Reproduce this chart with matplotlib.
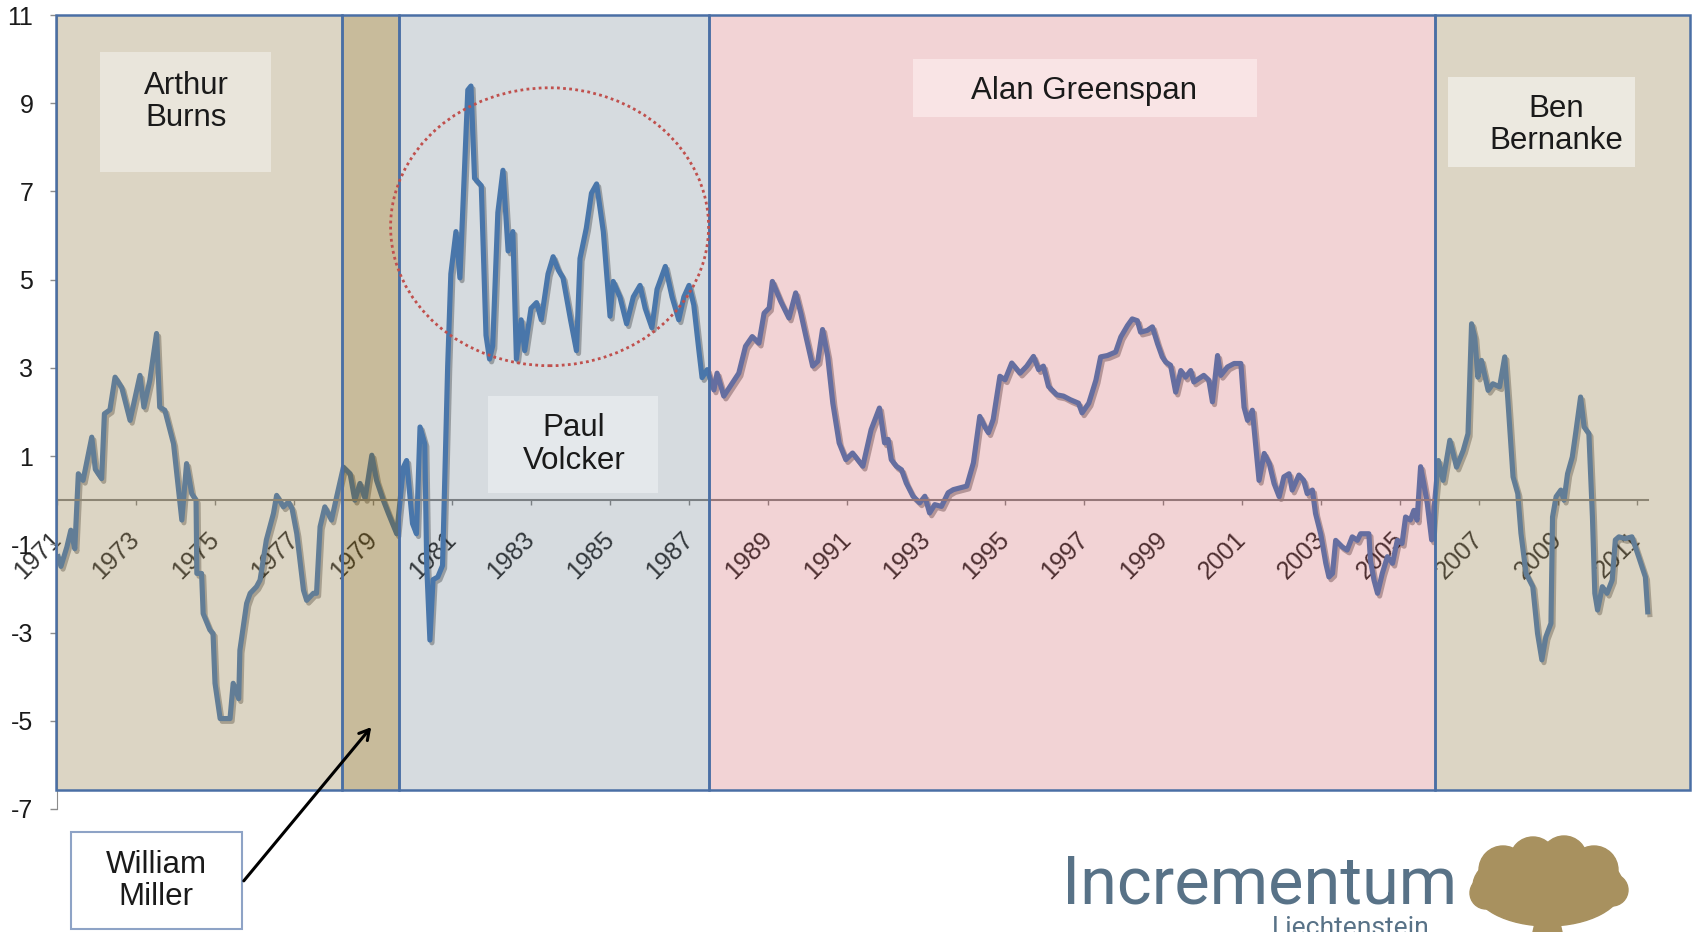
import matplotlib
matplotlib.use('Agg')
import matplotlib.pyplot as plt
import matplotlib.patheffects as pe
from matplotlib.patches import Rectangle, Ellipse, Polygon

plt.rcParams['font.family'] = ['Liberation Sans', 'DejaVu Sans']
plt.rcParams['axes.unicode_minus'] = False

# series (decimal year, value)
years = [
    1971.03, 1971.10, 1971.25, 1971.35, 1971.45, 1971.54, 1971.66, 1971.88, 1971.97, 1972.13,
    1972.20, 1972.34, 1972.47, 1972.64, 1972.85, 1973.10, 1973.20, 1973.35, 1973.52, 1973.60,
    1973.73, 1973.95, 1974.16, 1974.28, 1974.41, 1974.52, 1974.54, 1974.66, 1974.70, 1974.87,
    1974.95, 1975.00, 1975.13, 1975.38, 1975.46, 1975.60, 1975.63, 1975.80, 1975.89, 1976.05,
    1976.14, 1976.30, 1976.48, 1976.56, 1976.73, 1976.86, 1976.95, 1977.07, 1977.24, 1977.32,
    1977.49, 1977.57, 1977.66, 1977.78, 1977.95, 1978.08, 1978.25, 1978.42, 1978.54, 1978.67,
    1978.80, 1978.97, 1979.09, 1979.26, 1979.39, 1979.60, 1979.77, 1979.85, 1980.00, 1980.10,
    1980.19, 1980.31, 1980.36, 1980.44, 1980.52, 1980.64, 1980.76, 1980.89, 1980.97, 1981.10,
    1981.20, 1981.31, 1981.40, 1981.48, 1981.57, 1981.74, 1981.86, 1981.95, 1982.03, 1982.16,
    1982.29, 1982.42, 1982.54, 1982.63, 1982.75, 1982.84, 1983.00, 1983.14, 1983.26, 1983.43,
    1983.56, 1983.69, 1983.81, 1984.00, 1984.15, 1984.24, 1984.40, 1984.53, 1984.66, 1984.83,
    1985.00, 1985.08, 1985.25, 1985.42, 1985.59, 1985.76, 1985.89, 1986.06, 1986.19, 1986.40,
    1986.57, 1986.74, 1986.87, 1987.00, 1987.12, 1987.25, 1987.33, 1987.46, 1987.63, 1987.71,
    1987.88, 1988.10, 1988.26, 1988.43, 1988.60, 1988.77, 1988.90, 1989.03, 1989.11, 1989.32,
    1989.53, 1989.70, 1989.83, 1989.96, 1990.13, 1990.26, 1990.38, 1990.51, 1990.64, 1990.80,
    1990.97, 1991.14, 1991.27, 1991.40, 1991.61, 1991.82, 1991.95, 1992.04, 1992.12, 1992.25,
    1992.38, 1992.50, 1992.67, 1992.84, 1992.97, 1993.09, 1993.22, 1993.39, 1993.56, 1993.69,
    1994.03, 1994.20, 1994.36, 1994.49, 1994.58, 1994.70, 1994.87, 1995.00, 1995.17, 1995.38,
    1995.55, 1995.72, 1995.85, 1995.97, 1996.10, 1996.31, 1996.48, 1996.65, 1996.86, 1996.95,
    1997.12, 1997.30, 1997.42, 1997.59, 1997.80, 1997.93, 1998.10, 1998.22, 1998.35, 1998.43,
    1998.60, 1998.73, 1998.86, 1998.98, 1999.07, 1999.19, 1999.32, 1999.45, 1999.57, 1999.70,
    1999.78, 1999.91, 2000.03, 2000.16, 2000.25, 2000.38, 2000.46, 2000.63, 2000.80, 2000.97,
    2001.05, 2001.14, 2001.26, 2001.35, 2001.43, 2001.56, 2001.69, 2001.81, 2001.94, 2002.06,
    2002.19, 2002.27, 2002.44, 2002.56, 2002.65, 2002.78, 2002.86, 2002.99, 2003.12, 2003.20,
    2003.29, 2003.37, 2003.54, 2003.66, 2003.79, 2003.92, 2004.00, 2004.13, 2004.21, 2004.25,
    2004.34, 2004.43, 2004.55, 2004.68, 2004.81, 2004.93, 2005.05, 2005.14, 2005.26, 2005.35,
    2005.43, 2005.52, 2005.60, 2005.69, 2005.80, 2005.88, 2005.97, 2006.09, 2006.26, 2006.43,
    2006.60, 2006.72, 2006.81, 2006.89, 2006.97, 2007.06, 2007.23, 2007.35, 2007.52, 2007.65,
    2007.73, 2007.86, 2007.98, 2008.06, 2008.19, 2008.36, 2008.48, 2008.59, 2008.69, 2008.82,
    2008.86, 2008.95, 2009.07, 2009.15, 2009.24, 2009.36, 2009.45, 2009.57, 2009.66, 2009.78,
    2009.87, 2009.93, 2010.00, 2010.12, 2010.24, 2010.37, 2010.45, 2010.54, 2010.70, 2010.87,
    2011.04, 2011.21, 2011.27,
]
values = [
    -1.28, -1.50, -1.06, -0.68, -1.10, 0.60, 0.45, 1.43, 0.70, 0.49,
    1.96, 2.05, 2.79, 2.55, 1.81, 2.83, 2.11, 2.72, 3.78, 2.11,
    2.04, 1.28, -0.45, 0.83, 0.15, 0.00, -1.66, -1.66, -2.57, -2.94,
    -3.02, -4.15, -4.95, -4.95, -4.15, -4.50, -3.40, -2.34, -2.11, -1.96,
    -1.81, -0.90, -0.30, 0.11, -0.15, -0.04, -0.19, -0.76, -2.04, -2.27,
    -2.11, -2.11, -0.60, -0.15, -0.45, 0.08, 0.75, 0.60, 0.00, 0.38,
    0.04, 1.02, 0.45, 0.00, -0.30, -0.76, 0.75, 0.90, -0.53, -0.76,
    1.66, 1.28, -1.50, -3.17, -1.80, -1.74, -1.48, 3.04, 5.13, 6.09,
    5.04, 7.39, 9.30, 9.39, 7.30, 7.13, 3.74, 3.20, 3.50, 6.52,
    7.48, 5.65, 6.09, 3.20, 4.09, 3.39, 4.35, 4.48, 4.09, 5.13,
    5.52, 5.22, 5.04, 4.09, 3.39, 5.48, 6.17, 6.96, 7.17, 6.09,
    4.17, 4.96, 4.61, 4.00, 4.61, 4.87, 4.35, 3.91, 4.78, 5.30,
    4.61, 4.09, 4.61, 4.87, 4.43, 3.39, 2.78, 2.96, 2.50, 2.88,
    2.36, 2.66, 2.88, 3.49, 3.71, 3.56, 4.24, 4.36, 4.96, 4.51,
    4.13, 4.70, 4.24, 3.71, 3.04, 3.15, 3.87, 3.26, 2.20, 1.30,
    0.92, 1.07, 0.92, 0.77, 1.60, 2.09, 1.30, 1.38, 0.92, 0.77,
    0.69, 0.39, 0.09, -0.06, 0.09, -0.29, -0.10, -0.14, 0.17, 0.24,
    0.32, 0.85, 1.90, 1.66, 1.53, 1.83, 2.81, 2.73, 3.11, 2.88,
    3.04, 3.26, 2.96, 3.04, 2.58, 2.39, 2.36, 2.28, 2.20, 1.98,
    2.20, 2.72, 3.25, 3.28, 3.36, 3.70, 3.96, 4.11, 4.07, 3.81,
    3.85, 3.93, 3.55, 3.25, 3.13, 3.06, 2.45, 2.94, 2.79, 2.94,
    2.68, 2.76, 2.83, 2.72, 2.23, 3.28, 2.83, 3.02, 3.10, 3.10,
    2.11, 1.81, 2.04, 1.21, 0.45, 1.06, 0.83, 0.38, 0.08, 0.53,
    0.60, 0.23, 0.57, 0.45, 0.15, 0.23, -0.30, -0.76, -1.43, -1.74,
    -1.66, -0.91, -1.06, -1.13, -0.83, -0.91, -0.76, -0.76, -0.76, -1.36,
    -1.81, -2.11, -1.66, -1.28, -1.43, -0.91, -0.98, -0.38, -0.45, -0.23,
    -0.45, 0.76, 0.38, -0.08, -0.90, 0.00, 0.90, 0.45, 1.36, 0.75,
    1.13, 1.51, 4.00, 3.70, 2.79, 3.17, 2.49, 2.64, 2.57, 3.25,
    2.26, 0.53, 0.15, -0.75, -1.66, -1.96, -3.02, -3.62, -3.10, -2.79,
    -0.38, 0.08, 0.23, 0.00, 0.60, 0.98, 1.55, 2.34, 1.66, 1.51,
    -0.38, -2.11, -2.49, -1.96, -2.11, -1.81, -0.90, -0.83, -0.87, -0.83,
    -1.28, -1.74, -2.53,
]

# Fed chairmen and their terms (decimal years)
chairs = ['Arthur\nBurns', 'William\nMiller', 'Paul\nVolcker', 'Alan Greenspan', 'Ben\nBernanke']
term_start = [1970.97, 1978.21, 1979.67, 1987.50, 2005.89]
term_end = [1978.21, 1979.67, 1987.50, 2005.89, 2012.34]

y_ticks = list(range(-7, 12, 2))
x_ticks = list(range(1971, 2012, 2))

# translucent tints laid over the line (that's why the line colour shifts per era)
tint = ['#8E763E', '#765505', '#324B5F', '#BE232D', '#8E763E']
tint_alpha = [0.30, 0.40, 0.20, 0.20, 0.30]
box_bottom = -6.58

fig = plt.figure(figsize=(16.92, 9.32), dpi=100)
ax = fig.add_axes([57 / 1692, 123 / 932, 1633 / 1692, 794 / 932])
ax.set_xlim(1971, 2012.34)
ax.set_ylim(-7, 11)

ax.plot(years, values, color='#4F81BD', lw=3.7, solid_joinstyle='round', zorder=2,
        path_effects=[pe.SimpleLineShadow(offset=(1.5, -2), alpha=0.3), pe.Normal()])

for side in ['top', 'right']:
    ax.spines[side].set_visible(False)
ax.spines['left'].set_color('#8C8C8C')
ax.spines['bottom'].set_position(('data', 0))
ax.spines['bottom'].set_bounds(1971, years[-1])
ax.spines['bottom'].set_color('#8C8C8C')
ax.spines['bottom'].set_linewidth(1.5)

ax.set_yticks(y_ticks)
ax.set_xticks(x_ticks)
ax.tick_params(axis='y', direction='out', length=5, width=1, color='#8C8C8C',
               labelsize=18, labelcolor='#1A1A1A', pad=12)
ax.tick_params(axis='x', direction='out', length=3.5, width=1, color='#8C8C8C',
               labelsize=18, labelcolor='#333333', pad=22)
for lab in ax.get_xticklabels():
    lab.set_rotation(45)
    lab.set_ha('right')
    lab.set_va('center')
    lab.set_rotation_mode('anchor')

for x0, x1, c, a in zip(term_start, term_end, tint, tint_alpha):
    ax.add_patch(Rectangle((x0, box_bottom), x1 - x0, 11 - box_bottom, facecolor=c, alpha=a,
                           edgecolor='none', zorder=3, clip_on=False))
    ax.add_patch(Rectangle((x0, box_bottom), x1 - x0, 11 - box_bottom, fill=False,
                           edgecolor='#4A6FA5', lw=1.8, zorder=3.2, clip_on=False))

# name plates inside the plot: (x0, y0, width, height, face, text x, text y)
plates = {
    'Arthur\nBurns': (1972.09, 7.44, 4.33, 2.72, '#E9E5DB', 1974.27, 9.03),
    'Paul\nVolcker': (1981.91, 0.17, 4.31, 2.20, '#E4E8EB', 1984.09, 1.26),
    'Alan Greenspan': (1992.67, 8.69, 8.71, 1.31, '#F9E4E5', 1997.00, 9.28),
    'Ben\nBernanke': (2006.22, 7.56, 4.73, 2.04, '#ECE9E0', 2008.95, 8.50),
}
for name, (x0, y0, w, h, fc, tx, ty) in plates.items():
    ax.add_patch(Rectangle((x0, y0), w, h, facecolor=fc, edgecolor='none', zorder=4))
    ax.text(tx, ty, name, ha='center', va='center', fontsize=22.5, color='#1A1A1A',
            linespacing=1.1, zorder=5)

ax.add_patch(Ellipse((1983.47, 6.2), 8.05, 6.3, fill=False, edgecolor='#C0504D', lw=2,
                     linestyle=(0, (1, 1.2)), zorder=6))

# overlay in pixel units for the Miller callout and the logo
ov = fig.add_axes([0, 0, 1, 1])
ov.set_xlim(0, 1692)
ov.set_ylim(932, 0)
ov.axis('off')

ov.add_patch(Rectangle((71, 832), 171, 97, facecolor='white', edgecolor='#8EA3C6', lw=1.5))
ov.text(156, 881, chairs[1], ha='center', va='center', fontsize=22.5, color='#1A1A1A',
        linespacing=1.1)
ov.annotate('', xy=(373, 725), xytext=(242, 883),
            arrowprops=dict(arrowstyle='->,head_length=0.7,head_width=0.4', color='black', lw=2.2))

logo_col = '#587287'
ov.text(1062, 904, 'Incrementum', fontsize=48, family=['Roboto', 'DejaVu Sans'],
        color=logo_col, ha='left', va='baseline')
ov.text(1272, 916, 'Liechtenstein', fontsize=19, family=['Roboto', 'DejaVu Sans'],
        color=logo_col, ha='left', va='top')

gold = '#A8915F'
ov.add_patch(Ellipse((1548, 886), 150, 80, color=gold))
for cx, cy, r in [(1503, 870, 24), (1533, 860, 23), (1564, 859, 23), (1594, 870, 24),
                  (1612, 890, 16), (1486, 893, 16)]:
    ov.add_patch(Ellipse((cx, cy), 2 * r, 2 * r, color=gold))
ov.add_patch(Polygon([(1538, 910), (1557, 910), (1562, 932), (1533, 932)], color=gold))

fig.savefig('out.png', dpi=100)
